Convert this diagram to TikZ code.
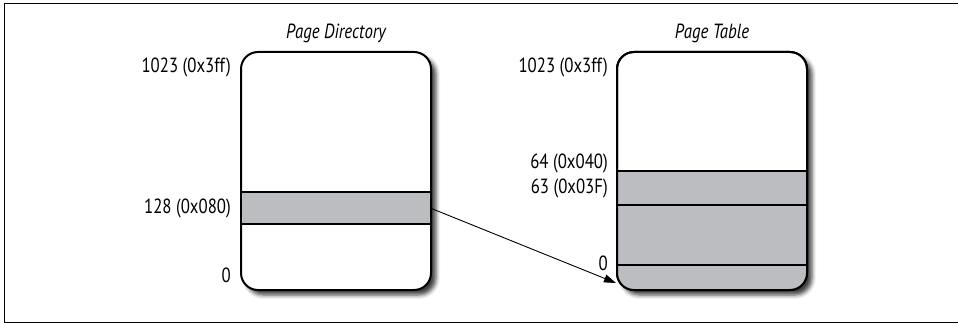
\documentclass[tikz,border=0pt]{standalone}
\usepackage{fontspec}
\setmainfont[FakeStretch=0.82]{PT Sans}
\usetikzlibrary{shadows.blur,arrows.meta}
\definecolor{bandgray}{RGB}{188,189,192}
\tikzset{
  memblock/.style={draw=black, line width=2pt, rounded corners=17pt, fill=white,
     minimum width=190pt, minimum height=238pt, inner sep=0pt,
     blur shadow={shadow xshift=5pt, shadow yshift=-5pt, shadow blur radius=4pt, shadow opacity=75}},
  addr/.style={anchor=east, inner sep=0pt, font=\fontsize{20.5}{24}\selectfont},
  title/.style={inner sep=0pt, font=\fontsize{20.5}{24}\selectfont\itshape},
  divline/.style={line width=2pt},
  ptr/.style={line width=0.9pt, -{Triangle[length=12pt,width=8pt]}}
}
\begin{document}
\begin{tikzpicture}[x=1pt,y=-1pt]
\useasboundingbox (0,0) rectangle (958,323);
\draw[line width=1.5pt, line cap=rect] (958,3.5) -- (4.5,3.5) -- (4.5,322.5) -- (958,322.5);

% Page directory
\node[memblock] (pd) at (336,171) {};
\node[title] (pdtitle) at (336,33) {Page Directory};
\node[fill=bandgray, minimum width=188pt, minimum height=32pt, inner sep=0pt] (pdband) at (336,208) {};
\draw[divline] (241,192) -- (431,192);
\draw[divline] (241,224) -- (431,224);
\draw[line width=2pt] (241,192) -- (241,224) (431,192) -- (431,224);

\node[addr] (l1) at (231,67) {1023 (0x3ff)};
\node[addr] (l2) at (231,208) {128 (0x080)};
\node[addr] (l3) at (231,275) {0};

% Page table
\node[memblock] (pt) at (712,171) {};
\node[title] (pttitle) at (712,33) {Page Table};
\begin{scope}
  \clip[rounded corners=17pt] (617,52) rectangle (807,290);
  \fill[bandgray] (617,171) rectangle (807,290);
\end{scope}
\draw[line width=2pt, rounded corners=17pt] (617,52) rectangle (807,290);
\draw[divline] (617,171) -- (807,171);
\draw[divline] (617,205) -- (807,205);
\draw[divline] (617,265) -- (807,265);

\node[addr] (r1) at (608,67) {1023 (0x3ff)};
\node[addr] (r2) at (608,163) {64 (0x040)};
\node[addr] (r3) at (608,188) {63 (0x03F)};
\node[addr] (r4) at (608,263) {0};

\coordinate (tip) at (616,283);
\draw[ptr] (pdband.east) -- (tip);
\end{tikzpicture}
\end{document}
